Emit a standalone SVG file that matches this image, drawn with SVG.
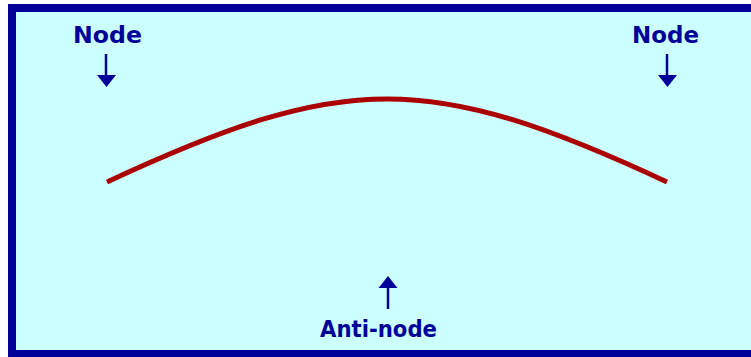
<svg xmlns="http://www.w3.org/2000/svg" width="751" height="357" viewBox="0 0 751 357">
<style>
.lbl{font-family:"DejaVu Sans",sans-serif;font-weight:bold;font-size:23px;fill:#000099}
.arr{stroke:#000099;stroke-width:2.5;fill:none}
.head{fill:#000099}
</style>
<rect x="0" y="0" width="751" height="357" fill="#ffffff"/>
<rect x="8" y="4" width="743" height="353" fill="#000099"/>
<rect x="16" y="12" width="735" height="338" fill="#ccffff"/>
<path d="M107,182 C344.7,71.3 429.3,71.3 667,182" stroke="#aa0000" stroke-width="5" fill="none"/>
<g id="node-left">
<text class="lbl" x="107.5" y="43" text-anchor="middle" textLength="69" lengthAdjust="spacingAndGlyphs">Node</text>
<line class="arr" x1="106" y1="54" x2="106" y2="78"/>
<polygon class="head" points="97,75 116,75 106.5,87"/>
</g>
<g id="node-right">
<text class="lbl" x="665.5" y="43" text-anchor="middle" textLength="67" lengthAdjust="spacingAndGlyphs">Node</text>
<line class="arr" x1="667" y1="54" x2="667" y2="78"/>
<polygon class="head" points="658,75 677,75 667.5,87"/>
</g>
<g id="antinode">
<text class="lbl" x="378.5" y="337" text-anchor="middle" textLength="117" lengthAdjust="spacingAndGlyphs">Anti-node</text>
<line class="arr" x1="388" y1="285" x2="388" y2="309"/>
<polygon class="head" points="378.5,288 397.5,288 388,276"/>
</g>
</svg>
